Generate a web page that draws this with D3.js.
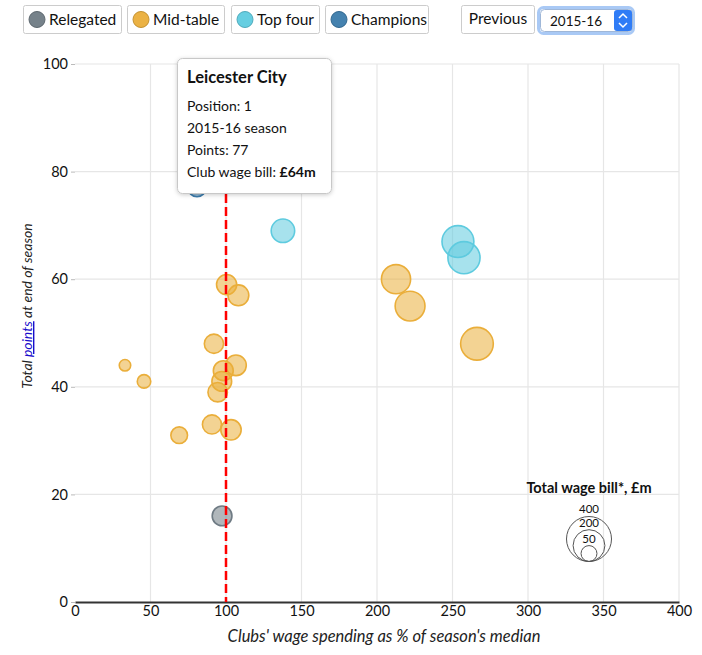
<!DOCTYPE html>
<html><head><meta charset="utf-8">
<script src="https://cdn.jsdelivr.net/npm/d3@7"></script>
<style>
body{margin:0;background:#fff;font-family:Lato,"Open Sans",sans-serif;}
svg{display:block}
</style></head><body>
<svg id="c" width="702" height="655"></svg>
<script>
const categories = ["Relegated","Mid-table","Top four","Champions"];
const catColors = ["#6f7b84","#eaae3a","#5ecbdf","#3b7bab"];
// per club: wage spend (% of median), points, wage bill £m, category index
const wagePct = [97.4, 80.8, 137.7, 253.6, 257.6, 212.6, 221.9, 266.2, 100.4, 108.2, 92, 106.6, 98.2, 97.2, 94.5, 33.1, 45.7, 69, 90.7, 103.3];
const points  = [16, 77, 69, 67, 64, 60, 55, 48, 59, 57, 48, 44, 43, 41, 39, 44, 41, 31, 33, 32];
const wageBill= [77, 64, 109, 201, 204, 168, 176, 211, 80, 86, 73, 84, 78, 77, 75, 26, 36, 55, 72, 82];
const category= [0, 3, 2, 2, 2, 1, 1, 1, 1, 1, 1, 1, 1, 1, 1, 1, 1, 1, 1, 1];
const xTicks = [0,50,100,150,200,250,300,350,400];
const yTicks = [0,20,40,60,80,100];
const sizeLegend = [400,200,50];
const season = "2015-16";
const tooltipLines = ["Position: 1","2015-16 season","Points: 77"];

const svg = d3.select("#c");
const x = d3.scaleLinear().domain([0,400]).range([75,679]);
const y = d3.scaleLinear().domain([0,100]).range([602,64]);
const r = d3.scaleSqrt().domain([0,400]).range([0,22.5]);

// grid
const g = svg.append("g");
g.selectAll(".vg").data(xTicks.slice(1)).join("line")
  .attr("x1",d=>x(d)).attr("x2",d=>x(d)).attr("y1",y(100)).attr("y2",y(0))
  .attr("stroke","#e6e6e6").attr("stroke-width",1.2);
g.selectAll(".hg").data(yTicks.slice(1)).join("line")
  .attr("x1",x(0)).attr("x2",x(400)).attr("y1",d=>y(d)).attr("y2",d=>y(d))
  .attr("stroke","#e6e6e6").attr("stroke-width",1.2);

// axes
const xa = svg.append("g").attr("transform",`translate(0,${y(0)})`)
  .call(d3.axisBottom(x).tickValues(xTicks).tickSize(0).tickPadding(4));
xa.select(".domain").attr("stroke","#333").attr("stroke-width",2);
xa.selectAll("text").attr("font-size",14.5).attr("fill","#111").attr("font-family","Lato");
const ya = svg.append("g").attr("transform",`translate(${x(0)},0)`)
  .call(d3.axisLeft(y).tickValues(yTicks).tickSize(4).tickPadding(3));
ya.select(".domain").remove();
ya.selectAll("line").attr("stroke","#bbb");
ya.selectAll("text").attr("font-size",14.5).attr("fill","#111").attr("font-family","Lato");

// axis titles
svg.append("text").attr("x",384).attr("y",642).attr("text-anchor","middle")
  .attr("font-style","italic").attr("font-size",16.5).attr("fill","#222")
  .text("Clubs' wage spending as % of season's median");
const yt = svg.append("text").attr("transform","translate(32,306) rotate(-90)")
  .attr("text-anchor","middle").attr("font-style","italic").attr("font-size",14).attr("fill","#222");
yt.append("tspan").text("Total ");
yt.append("tspan").text("points").attr("fill","#1a0dcc").attr("text-decoration","underline");
yt.append("tspan").text(" at end of season");

// circles
const idx = d3.range(wagePct.length);
svg.append("g").selectAll("circle").data(idx).join("circle")
  .attr("cx",i=>x(wagePct[i])).attr("cy",i=>y(points[i])).attr("r",i=>r(wageBill[i]))
  .attr("fill",i=>catColors[category[i]]).attr("fill-opacity",0.55)
  .attr("stroke",i=>catColors[category[i]]).attr("stroke-width",1.6);

// median line
svg.append("line").attr("x1",x(100)).attr("x2",x(100)).attr("y1",y(100)).attr("y2",y(0))
  .attr("stroke","#ff0000").attr("stroke-width",2.5).attr("stroke-dasharray","9,4");

// size legend
const lx = 589, lb = 561.5;
svg.append("text").attr("x",lx).attr("y",493).attr("text-anchor","middle")
  .attr("font-weight","bold").attr("font-size",14.5).attr("fill","#111").text("Total wage bill*, £m");
const sl = svg.append("g");
sl.selectAll("circle").data(sizeLegend).join("circle")
  .attr("cx",lx).attr("cy",d=>lb-r(d)).attr("r",d=>r(d))
  .attr("fill","none").attr("stroke","#555").attr("stroke-width",1);
const labelGap = [4, 2.5, 3];
sl.selectAll("text").data(sizeLegend).join("text")
  .attr("x",lx).attr("y",(d,i)=>lb-2*r(d)-labelGap[i]).attr("text-anchor","middle")
  .attr("font-size",11.5).attr("fill","#111").text(d=>d);

// top legend buttons
const btnX = [23,127,231,325], btnW = [98,97,88,103];
const lg = svg.append("g");
categories.forEach((c,i)=>{
  const bg = lg.append("g").attr("transform",`translate(${btnX[i]},5)`);
  bg.append("rect").attr("x",0.5).attr("y",0.5).attr("width",btnW[i]).attr("height",28).attr("rx",2)
    .attr("fill","#fff").attr("stroke","#ccc");
  bg.append("circle").attr("cx",14).attr("cy",14.5).attr("r",8).attr("fill",catColors[i]).attr("fill-opacity",0.95)
    .attr("stroke",d3.color(catColors[i]).darker(0.5)).attr("stroke-width",1);
  bg.append("text").attr("x",26).attr("y",19.5).attr("font-size",15.5).attr("fill","#111").text(c);
});
const pb = svg.append("g").attr("transform","translate(461,5)");
pb.append("rect").attr("x",0.5).attr("y",0.5).attr("width",73).attr("height",28).attr("rx",2)
  .attr("fill","#fff").attr("stroke","#ccc");
pb.append("text").attr("x",37).attr("y",19).attr("text-anchor","middle").attr("font-size",15.5).attr("fill","#111").text("Previous");
const sel = svg.append("g").attr("transform","translate(540,9)");
sel.append("rect").attr("x",-1.5).attr("y",-1.5).attr("width",95).attr("height",26).attr("rx",5)
  .attr("fill","none").attr("stroke","#a9c9f5").attr("stroke-width",3);
sel.append("rect").attr("x",0.5).attr("y",0.5).attr("width",92).attr("height",22).attr("rx",4)
  .attr("fill","#fff").attr("stroke","#9fb7d8");
sel.append("rect").attr("x",74).attr("y",1).attr("width",18).attr("height",21).attr("rx",3).attr("fill","#2f7cf6");
sel.append("path").attr("d","M79,9 L83,5 L87,9 M79,14 L83,18 L87,14").attr("fill","none").attr("stroke","#fff").attr("stroke-width",1.5);
sel.append("text").attr("x",10).attr("y",16.5).attr("font-size",13.5).attr("fill","#111").text(season);

// tooltip
const defs = svg.append("defs");
const f = defs.append("filter").attr("id","sh").attr("x","-10%").attr("y","-10%").attr("width","130%").attr("height","130%");
f.append("feDropShadow").attr("dx",0).attr("dy",1).attr("stdDeviation",2).attr("flood-color","#000").attr("flood-opacity",0.2);
const tt = svg.append("g").attr("transform","translate(177,58)");
tt.append("rect").attr("x",0.5).attr("y",0.5).attr("width",154).attr("height",135).attr("rx",5)
  .attr("fill","#fff").attr("stroke","#c8c8c8").attr("filter","url(#sh)");
tt.append("text").attr("x",10).attr("y",25).attr("font-weight","bold").attr("font-size",16.5).attr("fill","#111").text("Leicester City");
tooltipLines.forEach((t,i)=>{
  tt.append("text").attr("x",10).attr("y",53+i*22).attr("font-size",14).attr("fill","#111").text(t);
});
const wl = tt.append("text").attr("x",10).attr("y",119).attr("font-size",14).attr("fill","#111");
wl.append("tspan").text("Club wage bill: ");
wl.append("tspan").attr("font-weight","bold").text("£"+wageBill[1]+"m");
</script>
</body></html>
